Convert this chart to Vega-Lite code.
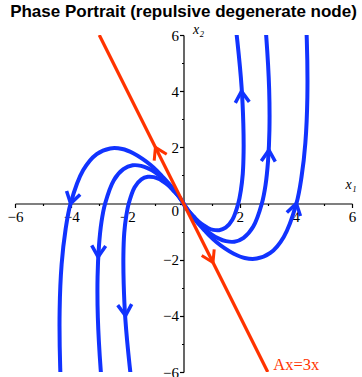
{
  "$schema": "https://vega.github.io/schema/vega-lite/v6.json",
  "width": 337,
  "height": 337,
  "autosize": "none",
  "padding": {"left": 15, "top": 35, "right": 10, "bottom": 5},
  "background": "white",
  "title": {
    "text": "Phase Portrait (repulsive degenerate node)",
    "font": "Liberation Sans",
    "fontSize": 17,
    "fontWeight": "bold",
    "color": "black",
    "anchor": "middle",
    "frame": "group",
    "baseline": "alphabetic",
    "offset": -12
  },
  "config": {
    "view": {"stroke": null},
    "axis": {"grid": false}
  },
  "datasets": {
    "eigenline": [
      {"x": -3, "y": 6},
      {"x": 3, "y": -6}
    ],
    "orbits": [
      {"c": "R1", "t": -3, "x": 0, "y": 0},
      {"c": "R1", "t": -2.5, "x": 0.02, "y": -0.04},
      {"c": "R1", "t": -2, "x": 0.09, "y": -0.13},
      {"c": "R1", "t": -1.8, "x": 0.14, "y": -0.21},
      {"c": "R1", "t": -1.6, "x": 0.23, "y": -0.32},
      {"c": "R1", "t": -1.4, "x": 0.37, "y": -0.47},
      {"c": "R1", "t": -1.3, "x": 0.46, "y": -0.57},
      {"c": "R1", "t": -1.2, "x": 0.57, "y": -0.67},
      {"c": "R1", "t": -1.1, "x": 0.71, "y": -0.77},
      {"c": "R1", "t": -1.0, "x": 0.87, "y": -0.87},
      {"c": "R1", "t": -0.9, "x": 1.06, "y": -0.94},
      {"c": "R1", "t": -0.8, "x": 1.27, "y": -0.95},
      {"c": "R1", "t": -0.7, "x": 1.50, "y": -0.86},
      {"c": "R1", "t": -0.6, "x": 1.74, "y": -0.58},
      {"c": "R1", "t": -0.5, "x": 1.95, "y": 0},
      {"c": "R1", "t": -0.45, "x": 2.04, "y": 0.45},
      {"c": "R1", "t": -0.4, "x": 2.11, "y": 1.05},
      {"c": "R1", "t": -0.35, "x": 2.14, "y": 1.84},
      {"c": "R1", "t": -0.3, "x": 2.13, "y": 2.85},
      {"c": "R1", "t": -0.25, "x": 2.07, "y": 4.13},
      {"c": "R1", "t": -0.2, "x": 1.92, "y": 5.76},
      {"c": "R1", "t": -0.15, "x": 1.67, "y": 7.81},

      {"c": "R2", "t": -3, "x": 0, "y": 0},
      {"c": "R2", "t": -2.5, "x": 0.03, "y": -0.06},
      {"c": "R2", "t": -2, "x": 0.12, "y": -0.19},
      {"c": "R2", "t": -1.8, "x": 0.20, "y": -0.29},
      {"c": "R2", "t": -1.6, "x": 0.33, "y": -0.45},
      {"c": "R2", "t": -1.4, "x": 0.52, "y": -0.67},
      {"c": "R2", "t": -1.3, "x": 0.66, "y": -0.81},
      {"c": "R2", "t": -1.2, "x": 0.82, "y": -0.96},
      {"c": "R2", "t": -1.1, "x": 1.01, "y": -1.11},
      {"c": "R2", "t": -1.0, "x": 1.24, "y": -1.24},
      {"c": "R2", "t": -0.9, "x": 1.51, "y": -1.34},
      {"c": "R2", "t": -0.8, "x": 1.81, "y": -1.36},
      {"c": "R2", "t": -0.7, "x": 2.14, "y": -1.22},
      {"c": "R2", "t": -0.6, "x": 2.48, "y": -0.83},
      {"c": "R2", "t": -0.5, "x": 2.79, "y": 0},
      {"c": "R2", "t": -0.45, "x": 2.92, "y": 0.65},
      {"c": "R2", "t": -0.4, "x": 3.01, "y": 1.51},
      {"c": "R2", "t": -0.35, "x": 3.06, "y": 2.62},
      {"c": "R2", "t": -0.3, "x": 3.05, "y": 4.07},
      {"c": "R2", "t": -0.25, "x": 2.95, "y": 5.90},
      {"c": "R2", "t": -0.2, "x": 2.74, "y": 8.23},

      {"c": "R3", "t": -3, "x": 0, "y": 0},
      {"c": "R3", "t": -2.5, "x": 0.05, "y": -0.08},
      {"c": "R3", "t": -2, "x": 0.18, "y": -0.27},
      {"c": "R3", "t": -1.8, "x": 0.29, "y": -0.42},
      {"c": "R3", "t": -1.6, "x": 0.47, "y": -0.65},
      {"c": "R3", "t": -1.4, "x": 0.76, "y": -0.97},
      {"c": "R3", "t": -1.3, "x": 0.95, "y": -1.17},
      {"c": "R3", "t": -1.2, "x": 1.18, "y": -1.38},
      {"c": "R3", "t": -1.1, "x": 1.46, "y": -1.59},
      {"c": "R3", "t": -1.0, "x": 1.79, "y": -1.79},
      {"c": "R3", "t": -0.9, "x": 2.18, "y": -1.94},
      {"c": "R3", "t": -0.8, "x": 2.61, "y": -1.96},
      {"c": "R3", "t": -0.7, "x": 3.09, "y": -1.76},
      {"c": "R3", "t": -0.6, "x": 3.57, "y": -1.19},
      {"c": "R3", "t": -0.5, "x": 4.02, "y": 0},
      {"c": "R3", "t": -0.45, "x": 4.20, "y": 0.93},
      {"c": "R3", "t": -0.4, "x": 4.34, "y": 2.17},
      {"c": "R3", "t": -0.35, "x": 4.41, "y": 3.78},
      {"c": "R3", "t": -0.3, "x": 4.39, "y": 5.85},
      {"c": "R3", "t": -0.25, "x": 4.25, "y": 8.50},

      {"c": "L1", "t": -3, "x": 0, "y": 0},
      {"c": "L1", "t": -2.5, "x": -0.02, "y": 0.04},
      {"c": "L1", "t": -2, "x": -0.09, "y": 0.13},
      {"c": "L1", "t": -1.8, "x": -0.14, "y": 0.21},
      {"c": "L1", "t": -1.6, "x": -0.23, "y": 0.32},
      {"c": "L1", "t": -1.4, "x": -0.37, "y": 0.47},
      {"c": "L1", "t": -1.3, "x": -0.46, "y": 0.57},
      {"c": "L1", "t": -1.2, "x": -0.57, "y": 0.67},
      {"c": "L1", "t": -1.1, "x": -0.71, "y": 0.77},
      {"c": "L1", "t": -1.0, "x": -0.87, "y": 0.87},
      {"c": "L1", "t": -0.9, "x": -1.06, "y": 0.94},
      {"c": "L1", "t": -0.8, "x": -1.27, "y": 0.95},
      {"c": "L1", "t": -0.7, "x": -1.50, "y": 0.86},
      {"c": "L1", "t": -0.6, "x": -1.74, "y": 0.58},
      {"c": "L1", "t": -0.5, "x": -1.95, "y": 0},
      {"c": "L1", "t": -0.45, "x": -2.04, "y": -0.45},
      {"c": "L1", "t": -0.4, "x": -2.11, "y": -1.05},
      {"c": "L1", "t": -0.35, "x": -2.14, "y": -1.84},
      {"c": "L1", "t": -0.3, "x": -2.13, "y": -2.85},
      {"c": "L1", "t": -0.25, "x": -2.07, "y": -4.13},
      {"c": "L1", "t": -0.2, "x": -1.92, "y": -5.76},
      {"c": "L1", "t": -0.15, "x": -1.67, "y": -7.81},

      {"c": "L2", "t": -3, "x": 0, "y": 0},
      {"c": "L2", "t": -2.5, "x": -0.03, "y": 0.06},
      {"c": "L2", "t": -2, "x": -0.12, "y": 0.19},
      {"c": "L2", "t": -1.8, "x": -0.20, "y": 0.29},
      {"c": "L2", "t": -1.6, "x": -0.33, "y": 0.45},
      {"c": "L2", "t": -1.4, "x": -0.52, "y": 0.67},
      {"c": "L2", "t": -1.3, "x": -0.66, "y": 0.81},
      {"c": "L2", "t": -1.2, "x": -0.82, "y": 0.96},
      {"c": "L2", "t": -1.1, "x": -1.01, "y": 1.11},
      {"c": "L2", "t": -1.0, "x": -1.24, "y": 1.24},
      {"c": "L2", "t": -0.9, "x": -1.51, "y": 1.34},
      {"c": "L2", "t": -0.8, "x": -1.81, "y": 1.36},
      {"c": "L2", "t": -0.7, "x": -2.14, "y": 1.22},
      {"c": "L2", "t": -0.6, "x": -2.48, "y": 0.83},
      {"c": "L2", "t": -0.5, "x": -2.79, "y": 0},
      {"c": "L2", "t": -0.45, "x": -2.92, "y": -0.65},
      {"c": "L2", "t": -0.4, "x": -3.01, "y": -1.51},
      {"c": "L2", "t": -0.35, "x": -3.06, "y": -2.62},
      {"c": "L2", "t": -0.3, "x": -3.05, "y": -4.07},
      {"c": "L2", "t": -0.25, "x": -2.95, "y": -5.90},
      {"c": "L2", "t": -0.2, "x": -2.74, "y": -8.23},

      {"c": "L3", "t": -3, "x": 0, "y": 0},
      {"c": "L3", "t": -2.5, "x": -0.05, "y": 0.08},
      {"c": "L3", "t": -2, "x": -0.18, "y": 0.27},
      {"c": "L3", "t": -1.8, "x": -0.29, "y": 0.42},
      {"c": "L3", "t": -1.6, "x": -0.47, "y": 0.65},
      {"c": "L3", "t": -1.4, "x": -0.76, "y": 0.97},
      {"c": "L3", "t": -1.3, "x": -0.95, "y": 1.17},
      {"c": "L3", "t": -1.2, "x": -1.18, "y": 1.38},
      {"c": "L3", "t": -1.1, "x": -1.46, "y": 1.59},
      {"c": "L3", "t": -1.0, "x": -1.79, "y": 1.79},
      {"c": "L3", "t": -0.9, "x": -2.18, "y": 1.94},
      {"c": "L3", "t": -0.8, "x": -2.61, "y": 1.96},
      {"c": "L3", "t": -0.7, "x": -3.09, "y": 1.76},
      {"c": "L3", "t": -0.6, "x": -3.57, "y": 1.19},
      {"c": "L3", "t": -0.5, "x": -4.02, "y": 0},
      {"c": "L3", "t": -0.45, "x": -4.20, "y": -0.93},
      {"c": "L3", "t": -0.4, "x": -4.34, "y": -2.17},
      {"c": "L3", "t": -0.35, "x": -4.41, "y": -3.78},
      {"c": "L3", "t": -0.3, "x": -4.39, "y": -5.85},
      {"c": "L3", "t": -0.25, "x": -4.25, "y": -8.50}
    ],
    "arrows": [
      {"id": "R1", "x": 2.08, "y": 3.8},
      {"id": "R2", "x": 3.03, "y": 1.7},
      {"id": "R3", "x": 3.97, "y": -0.19},
      {"id": "L1", "x": -2.08, "y": -3.8},
      {"id": "L2", "x": -3.03, "y": -1.7},
      {"id": "L3", "x": -3.97, "y": 0.19},
      {"id": "E1", "x": -0.91, "y": 1.82},
      {"id": "E2", "x": 0.96, "y": -1.92}
    ],
    "note": [
      {"x": 3.2, "y": -5.92, "label": "Ax=3x"}
    ]
  },
  "encoding": {
    "x": {
      "field": "x",
      "type": "quantitative",
      "scale": {"domain": [-6, 6], "nice": false, "zero": false},
      "axis": {
        "orient": "bottom",
        "offset": -168.5,
        "values": [-6, -5, -4, -3, -2, -1, 0, 1, 2, 3, 4, 5, 6],
        "labelExpr": "datum.value % 2 === 0 && datum.value !== 0 ? datum.label : ''",
        "labelFlush": false,
        "labelOverlap": false,
        "labelFont": "Liberation Serif",
        "labelFontSize": 15,
        "labelColor": "black",
        "labelPadding": 2,
        "domainColor": "black",
        "domainWidth": 1.2,
        "tickColor": "black",
        "tickWidth": 1.2,
        "tickSize": {"condition": {"test": "datum.value % 2 !== 0", "value": 2}, "value": 4},
        "title": "x₁",
        "titleFont": "Liberation Serif",
        "titleFontStyle": "italic",
        "titleFontWeight": "normal",
        "titleFontSize": 14,
        "titleColor": "black",
        "titleAlign": "left",
        "titleBaseline": "alphabetic",
        "titleX": 330,
        "titleY": -15
      }
    },
    "y": {
      "field": "y",
      "type": "quantitative",
      "scale": {"domain": [-6, 6], "nice": false, "zero": false},
      "axis": {
        "orient": "left",
        "offset": -168.5,
        "values": [-6, -5, -4, -3, -2, -1, 0, 1, 2, 3, 4, 5, 6],
        "labelExpr": "datum.value % 2 === 0 ? datum.label : ''",
        "labelOverlap": false,
        "labelFlush": false,
        "labelFont": "Liberation Serif",
        "labelFontSize": 15,
        "labelColor": "black",
        "labelPadding": 1,
        "labelBaseline": {"condition": {"test": "datum.value === 0", "value": "top"}, "value": "middle"},
        "domainColor": "black",
        "domainWidth": 1.2,
        "tickColor": "black",
        "tickWidth": 1.2,
        "tickSize": {"condition": {"test": "datum.value % 2 !== 0", "value": 2}, "value": 4},
        "title": "x₂",
        "titleAngle": 0,
        "titleFont": "Liberation Serif",
        "titleFontStyle": "italic",
        "titleFontWeight": "normal",
        "titleFontSize": 14,
        "titleColor": "black",
        "titleAlign": "left",
        "titleBaseline": "alphabetic",
        "titleX": 9,
        "titleY": -2
      }
    }
  },
  "layer": [
    {
      "data": {"name": "orbits"},
      "mark": {"type": "line", "clip": true, "color": "#1133ff", "strokeWidth": 4, "interpolate": "catmull-rom"},
      "encoding": {
        "detail": {"field": "c", "type": "nominal"},
        "order": {"field": "t", "type": "quantitative"}
      }
    },
    {
      "data": {"name": "eigenline"},
      "mark": {"type": "line", "clip": true, "color": "#ff3300", "strokeWidth": 3.2},
      "encoding": {}
    },
    {
      "data": {"name": "arrows"},
      "transform": [{"filter": "datum.id === 'R1'"}],
      "mark": {"type": "point", "shape": "M -1 0.8 L 0 -0.8 L 1 0.8", "filled": false, "opacity": 1, "size": 196, "strokeWidth": 3.5, "color": "#1133ff", "angle": 356}
    },
    {
      "data": {"name": "arrows"},
      "transform": [{"filter": "datum.id === 'R2'"}],
      "mark": {"type": "point", "shape": "M -1 0.8 L 0 -0.8 L 1 0.8", "filled": false, "opacity": 1, "size": 196, "strokeWidth": 3.5, "color": "#1133ff", "angle": 3}
    },
    {
      "data": {"name": "arrows"},
      "transform": [{"filter": "datum.id === 'R3'"}],
      "mark": {"type": "point", "shape": "M -1 0.8 L 0 -0.8 L 1 0.8", "filled": false, "opacity": 1, "size": 196, "strokeWidth": 3.5, "color": "#1133ff", "angle": 14}
    },
    {
      "data": {"name": "arrows"},
      "transform": [{"filter": "datum.id === 'L1'"}],
      "mark": {"type": "point", "shape": "M -1 0.8 L 0 -0.8 L 1 0.8", "filled": false, "opacity": 1, "size": 196, "strokeWidth": 3.5, "color": "#1133ff", "angle": 176}
    },
    {
      "data": {"name": "arrows"},
      "transform": [{"filter": "datum.id === 'L2'"}],
      "mark": {"type": "point", "shape": "M -1 0.8 L 0 -0.8 L 1 0.8", "filled": false, "opacity": 1, "size": 196, "strokeWidth": 3.5, "color": "#1133ff", "angle": 183}
    },
    {
      "data": {"name": "arrows"},
      "transform": [{"filter": "datum.id === 'L3'"}],
      "mark": {"type": "point", "shape": "M -1 0.8 L 0 -0.8 L 1 0.8", "filled": false, "opacity": 1, "size": 196, "strokeWidth": 3.5, "color": "#1133ff", "angle": 194}
    },
    {
      "data": {"name": "arrows"},
      "transform": [{"filter": "datum.id === 'E1'"}],
      "mark": {"type": "point", "shape": "M -1 0.8 L 0 -0.8 L 1 0.8", "filled": false, "opacity": 1, "size": 196, "strokeWidth": 3, "color": "#ff3300", "angle": 333.4}
    },
    {
      "data": {"name": "arrows"},
      "transform": [{"filter": "datum.id === 'E2'"}],
      "mark": {"type": "point", "shape": "M -1 0.8 L 0 -0.8 L 1 0.8", "filled": false, "opacity": 1, "size": 196, "strokeWidth": 3, "color": "#ff3300", "angle": 153.4}
    },
    {
      "data": {"name": "note"},
      "mark": {"type": "text", "align": "left", "baseline": "alphabetic", "font": "Liberation Serif", "fontSize": 16.5, "color": "#ff3300"},
      "encoding": {"text": {"field": "label", "type": "nominal"}}
    }
  ]
}
